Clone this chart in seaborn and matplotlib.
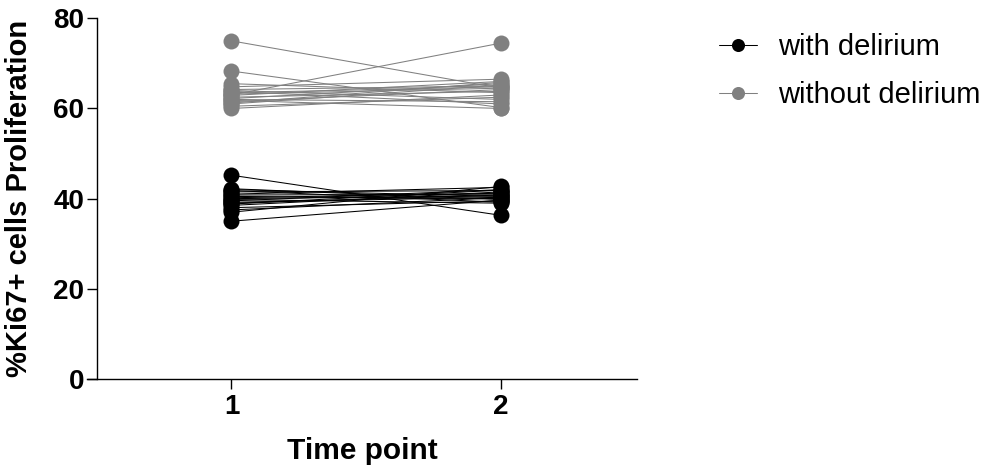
import matplotlib
matplotlib.use("Agg")
import matplotlib.pyplot as plt
from matplotlib.lines import Line2D
import seaborn as sns
import pandas as pd

# ---- data ----
time_points = [1, 2]
groups = ["with delirium", "without delirium"]

with_t1 = [45.2, 35.0, 42.0, 41.5, 41.0, 40.5, 40.2, 39.8, 39.5, 39.0,
           38.5, 38.0, 37.5, 37.0, 41.8, 40.8, 40.0, 38.8, 42.2, 39.2]
with_t2 = [36.3, 39.7, 40.5, 41.8, 42.5, 40.0, 41.2, 39.0, 42.0, 40.8,
           41.5, 39.5, 40.2, 42.7, 39.2, 41.0, 40.6, 41.9, 39.8, 40.3]
without_t1 = [75.0, 68.3, 63.0, 65.5, 64.8, 64.2, 63.8, 63.5, 62.9, 62.5,
              62.2, 61.8, 61.5, 61.0, 60.5, 60.0, 64.0, 63.2, 62.0, 61.2]
without_t2 = [64.5, 60.2, 74.5, 63.5, 66.5, 65.0, 61.0, 64.8, 66.0, 63.8,
              65.5, 60.0, 64.2, 65.2, 62.5, 63.0, 62.0, 64.5, 61.5, 65.8]

y_ticks = [0, 20, 40, 60, 80]
x_label = "Time point"
y_label = "%Ki67+ cells Proliferation"

rows = []
for g, t1, t2 in [(groups[0], with_t1, with_t2), (groups[1], without_t1, without_t2)]:
    for i, (a, b) in enumerate(zip(t1, t2)):
        rows.append({"group": g, "subject": f"{g}-{i}", "time": time_points[0], "value": a})
        rows.append({"group": g, "subject": f"{g}-{i}", "time": time_points[1], "value": b})
df = pd.DataFrame(rows)

# ---- style ----
sns.set_style("ticks")
plt.rcParams["font.family"] = ["Liberation Sans", "DejaVu Sans"]
plt.rcParams["text.color"] = "black"
plt.rcParams["axes.labelcolor"] = "black"

colors = {"with delirium": "#000000", "without delirium": "#808080"}

fig = plt.figure(figsize=(9.85, 4.73), dpi=100)
ax = fig.add_axes([87 / 985, 1 - 379 / 473, 550 / 985, 360.7 / 473])

sns.lineplot(data=df, x="time", y="value", hue="group", units="subject",
             estimator=None, palette=colors, marker="o", markersize=11.5,
             markeredgewidth=0, linewidth=0.75, legend=False, ax=ax)

ax.set_xlim(0.464, 2.505)
ax.set_ylim(0, 80)
ax.set_xticks(time_points)
ax.set_xticklabels([str(t) for t in time_points])
ax.set_yticks(y_ticks)

for s in ["top", "right"]:
    ax.spines[s].set_visible(False)
ax.spines["left"].set_position(("data", 0.5))
for s in ["left", "bottom"]:
    ax.spines[s].set_linewidth(1.0)
    ax.spines[s].set_color("black")

ax.tick_params(axis="both", direction="out", length=7, width=1.0, colors="black")
ax.tick_params(axis="y", pad=2.0)
ax.tick_params(axis="x", pad=3.5)
for lab in ax.get_xticklabels() + ax.get_yticklabels():
    lab.set_fontsize(20)
    lab.set_fontweight("bold")

ax.set_xlabel(x_label, fontsize=21.5, fontweight="bold")
ax.set_ylabel(y_label, fontsize=21, fontweight="bold")
ax.xaxis.set_label_coords(0.5, -0.16)
ax.yaxis.set_label_coords(-0.098, 0.5)

handles = [Line2D([0], [0], color=colors[g], marker="o", markersize=9.4,
                  markeredgewidth=0, linewidth=0.75) for g in groups]
leg = fig.legend(handles, groups, loc="upper left", bbox_to_anchor=(719 / 985, 1 - 33 / 473),
                 frameon=False, fontsize=21, handlelength=1.3, handletextpad=0.72,
                 borderpad=0, borderaxespad=0, labelspacing=0.69)
for t in leg.get_texts():
    t.set_color("black")

fig.savefig("out.png", dpi=100)
